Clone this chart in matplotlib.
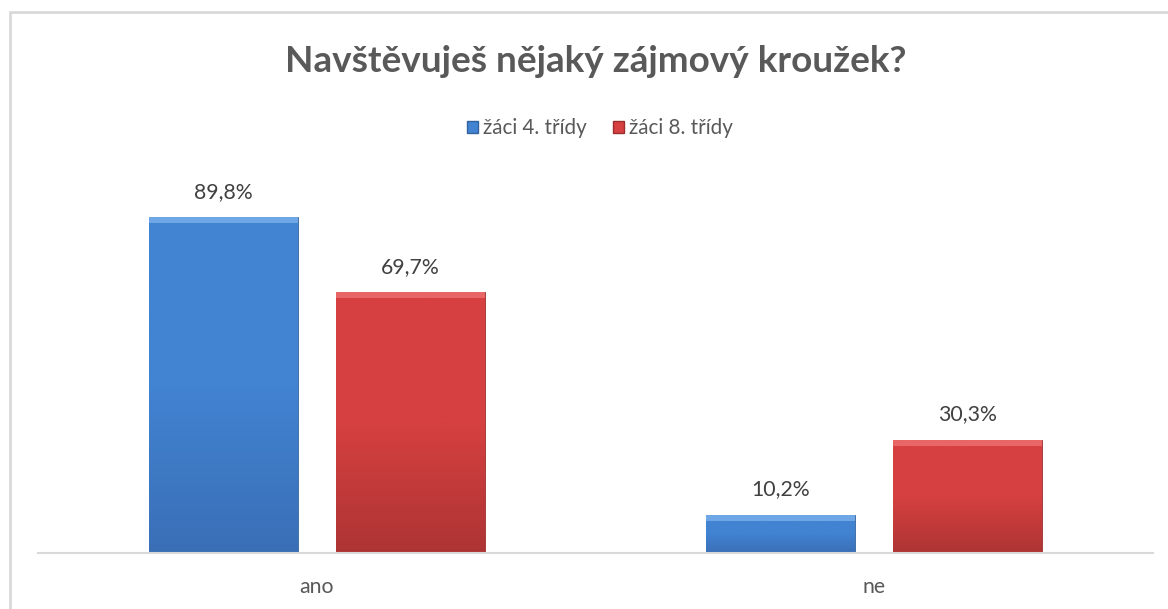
import numpy as np
import matplotlib.pyplot as plt
from matplotlib.patches import Rectangle
from matplotlib.colors import LinearSegmentedColormap

plt.rcParams['font.family'] = ['Lato', 'DejaVu Sans']

categories = ['ano', 'ne']
series_names = ['žáci 4. třídy', 'žáci 8. třídy']
values_4 = [89.8, 10.2]
values_8 = [69.7, 30.3]
labels_4 = ['89,8%', '10,2%']
labels_8 = ['69,7%', '30,3%']

blue = ['#7ab0ec', '#4283d2', '#3a6fb6']
red = ['#ee7070', '#d64040', '#ae3434']

fig = plt.figure(figsize=(11.68, 6.09), dpi=100)
ax = fig.add_axes([38/1168, 56/609, (1153-38)/1168, 374.2/609])

x = np.arange(len(categories))
w = 0.267
off = 0.1675
b1 = ax.bar(x - off, values_4, w, color=blue[1], edgecolor='#34649f', linewidth=0.6, zorder=2)
b2 = ax.bar(x + off, values_8, w, color=red[1], edgecolor='#9c2e2e', linewidth=0.6, zorder=2)

# gradient fill clipped to each bar, light bevel on top
grad = np.linspace(0, 1, 256).reshape(-1, 1)
for bars, cols in [(b1, blue), (b2, red)]:
    cmap = LinearSegmentedColormap.from_list('g', [cols[1], cols[1], cols[2]])
    for p in bars:
        x0, y0, bw, bh = p.get_x(), p.get_y(), p.get_width(), p.get_height()
        im = ax.imshow(grad, cmap=cmap, aspect='auto', extent=[x0, x0 + bw, y0, y0 + bh],
                       zorder=2.5, interpolation='bilinear')
        im.set_clip_path(p)
        ax.add_patch(Rectangle((x0, y0 + bh - 1.6), bw, 1.6,
                               facecolor=cols[0], edgecolor='none', alpha=0.8, zorder=3))

for bars, labs in [(b1, labels_4), (b2, labels_8)]:
    for p, t in zip(bars, labs):
        ax.annotate(t, (p.get_x() + p.get_width()/2, p.get_height()), xytext=(0, 11),
                    textcoords='offset points', ha='center', va='bottom',
                    fontsize=15.3, color='#404040')

ax.set_xlim(-0.5, 1.5)
ax.set_ylim(0, 100)
ax.set_yticks([])
ax.set_xticks(x)
ax.set_xticklabels(categories, fontsize=15.3, color='#595959')
ax.tick_params(axis='x', length=0, pad=17)
for s in ['top', 'right', 'left']:
    ax.spines[s].set_visible(False)
ax.spines['bottom'].set_color('#d9d9d9')
ax.spines['bottom'].set_linewidth(1.5)

fig.text(596/1168, 1 - 62/609, 'Navštěvuješ nějaký zájmový kroužek?', ha='center', va='center',
         fontsize=26.6, fontweight='bold', color='#595959')

# legend
handles = [Rectangle((0, 0), 1, 1, facecolor=blue[1], edgecolor='#34649f'),
           Rectangle((0, 0), 1, 1, facecolor=red[1], edgecolor='#9c2e2e')]
fig.legend(handles, series_names, loc='center', bbox_to_anchor=(600/1168, 1 - 128/609),
           ncol=2, frameon=False, fontsize=14.9, handlelength=0.5, handleheight=0.5,
           handletextpad=0.25, columnspacing=1.3, labelcolor='#595959')

fig.patches.append(Rectangle((10/1168, -0.1), 1.2, 1 - 12/609 + 0.1, transform=fig.transFigure,
                             fill=False, edgecolor='#d9d9d9', linewidth=2))

fig.savefig('out.png', dpi=100)
